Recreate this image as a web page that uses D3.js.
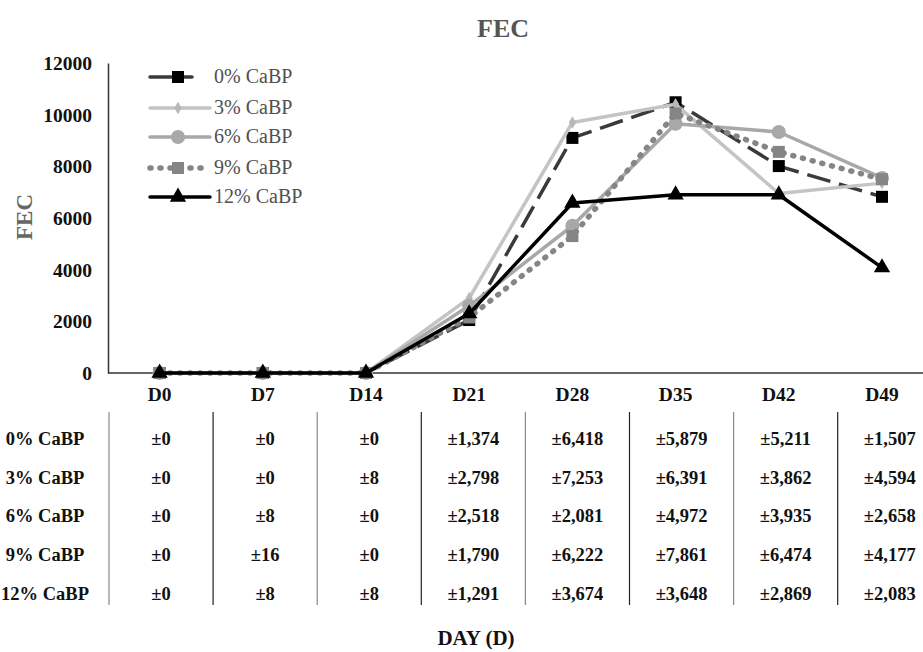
<!DOCTYPE html>
<html><head><meta charset="utf-8">
<script src="https://cdn.jsdelivr.net/npm/d3@7"></script>
<style>body{margin:0;background:#fff;} svg{display:block;} svg text{font-family:"Liberation Serif","Times New Roman",serif;}</style>
</head><body>
<script>
const days = ["D0","D7","D14","D21","D28","D35","D42","D49"];
const seriesNames = ["0% CaBP","3% CaBP","6% CaBP","9% CaBP","12% CaBP"];
const s0 = [0,0,0,2050,9100,10480,8010,6820];
const s3 = [0,0,0,2900,9700,10400,6950,7350];
const s6 = [0,0,0,2600,5700,9650,9330,7550];
const s9 = [0,0,0,2150,5300,10050,8560,7500];
const s12 = [0,0,0,2300,6580,6900,6900,4080];
const yTicks = [0,2000,4000,6000,8000,10000,12000];
const sd0 = ["±0","±0","±0","±1,374","±6,418","±5,879","±5,211","±1,507"];
const sd3 = ["±0","±0","±8","±2,798","±7,253","±6,391","±3,862","±4,594"];
const sd6 = ["±0","±8","±0","±2,518","±2,081","±4,972","±3,935","±2,658"];
const sd9 = ["±0","±16","±0","±1,790","±6,222","±7,861","±6,474","±4,177"];
const sd12 = ["±0","±8","±8","±1,291","±3,674","±3,648","±2,869","±2,083"];

const W=923,H=652;
const svg=d3.select("body").append("svg").attr("width",W).attr("height",H);
const x=d3.scaleBand().domain(days).range([108,108+8*103.2]);
const y=d3.scaleLinear().domain([0,12000]).range([373,63]);

const styles=[
 {c:"#3a3a3a",dash:"24,9",w:3.5,m:"square",mc:"#000",ms:12},
 {c:"#c4c4c4",dash:null,w:3.5,m:"diamond",mc:"#b8b8b8",ms:8},
 {c:"#a8a8a8",dash:null,w:3.5,m:"circle",mc:"#a8a8a8",ms:14},
 {c:"#858585",dash:"1,9",w:5.5,cap:"round",m:"square",mc:"#858585",ms:12},
 {c:"#000",dash:null,w:3.5,m:"triangle",mc:"#000",ms:16}
];
const data=[s0,s3,s6,s9,s12];
const F="Liberation Serif";

// title
svg.append("text").attr("x",503).attr("y",37).attr("text-anchor","middle").attr("font-family",F)
 .attr("font-size",26).attr("font-weight","bold").attr("fill","#555").text("FEC");
// y title
svg.append("text").attr("transform","translate(32,217) rotate(-90)").attr("text-anchor","middle").attr("font-family",F)
 .attr("font-size",23).attr("font-weight","bold").attr("fill","#666").text("FEC");
// x title
svg.append("text").attr("x",476).attr("y",645).attr("text-anchor","middle").attr("font-family",F)
 .attr("font-size",21).attr("font-weight","bold").attr("fill","#111").text("DAY (D)");

// axes
const yAx=svg.append("g").attr("transform","translate(108,0)")
 .call(d3.axisLeft(y).tickValues(yTicks).tickSize(0).tickPadding(16).tickFormat(d3.format("d")));
yAx.select(".domain").attr("stroke","#333").attr("stroke-width",1.5);
yAx.selectAll("text").attr("font-size",19.5).attr("font-weight","bold").attr("font-family",F).attr("fill","#111").attr("dy","0.34em");
const xAx=svg.append("g").attr("transform","translate(0,373)")
 .call(d3.axisBottom(x).tickSize(0).tickPadding(16));
xAx.select(".domain").attr("stroke","#333").attr("stroke-width",1.5).attr("d","M108,0H923");
xAx.selectAll("text").attr("font-size",19.5).attr("font-weight","bold").attr("font-family",F).attr("fill","#111").attr("dy","0.62em");

const sym={square:d3.symbolSquare,diamond:d3.symbolDiamond,circle:d3.symbolCircle,triangle:d3.symbolTriangle};
function marker(g,st,cx,cy){
  g.append("path").attr("d",d3.symbol().type(sym[st.m]).size(st.ms*st.ms*(st.m==="circle"?0.8:st.m==="triangle"?0.45:st.m==="diamond"?0.7:1))())
   .attr("transform",`translate(${cx},${cy})`).attr("fill",st.mc);
}
const line=d3.line().x((d,i)=>x(days[i])+x.bandwidth()/2).y(d=>y(d));
data.forEach((vals,k)=>{
  const st=styles[k];
  const g=svg.append("g");
  g.append("path").datum(vals).attr("d",line).attr("fill","none").attr("stroke",st.c)
   .attr("stroke-width",st.w).attr("stroke-dasharray",st.dash).attr("stroke-linecap",st.cap||"butt").attr("stroke-linejoin","round");
  vals.forEach((v,i)=>marker(g,st,x(days[i])+x.bandwidth()/2,y(v)));
});

// legend
const legY=[77,108,137,168,197];
seriesNames.forEach((n,k)=>{
  const st=styles[k];
  const g=svg.append("g");
  g.append("line").attr("x1",150).attr("x2",k===0?192:210).attr("y1",legY[k]).attr("y2",legY[k])
   .attr("stroke",st.c).attr("stroke-width",st.w).attr("stroke-dasharray",k===0?null:st.dash).attr("stroke-linecap",st.cap||"round");
  marker(g,st,178,legY[k]);
  g.append("text").attr("x",214).attr("y",legY[k]+6).attr("font-family",F).attr("font-size",20).attr("fill","#505050").text(n);
});

// table
const tx0=109, tw=104.1;
const rowY=[445,484,522,561,600];
const sds=[sd0,sd3,sd6,sd9,sd12];
for(let i=0;i<8;i++){
  svg.append("line").attr("x1",tx0+i*tw).attr("x2",tx0+i*tw).attr("y1",412).attr("y2",605)
   .attr("stroke",i%2===0?"#888":"#222").attr("stroke-width",1.2);
}
seriesNames.forEach((n,k)=>{
  svg.append("text").attr("x",45).attr("y",rowY[k]).attr("text-anchor","middle").attr("font-family",F)
   .attr("font-size",18.5).attr("font-weight","bold").attr("fill","#111").text(n);
  sds[k].forEach((s,i)=>{
    svg.append("text").attr("x",tx0+i*tw+tw/2).attr("y",rowY[k]).attr("text-anchor","middle").attr("font-family",F)
     .attr("font-size",18.5).attr("font-weight","bold").attr("fill","#111").text(s);
  });
});
</script>
</body></html>
